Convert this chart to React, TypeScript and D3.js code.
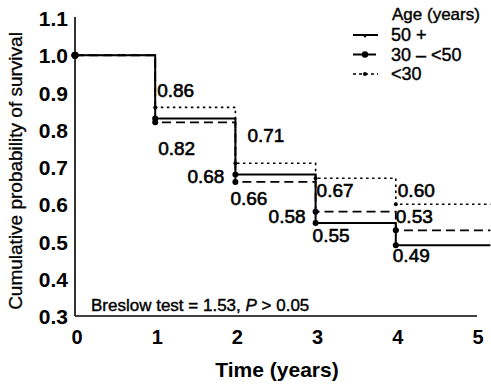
import React from "react";
import * as d3 from "d3";

// Kaplan-Meier estimates
const timeYears = [0, 1, 2, 3, 4];
const followUpEnd = 5.18;
const survival50plus = [1.0, 0.83, 0.68, 0.55, 0.49];
const survival30to50 = [1.0, 0.82, 0.66, 0.58, 0.53];
const survivalUnder30 = [1.0, 0.86, 0.71, 0.67, 0.6];

const seriesNames = ["50 +", "30 \u2013 <50", "<30"];
const yTicks = [0.3, 0.4, 0.5, 0.6, 0.7, 0.8, 0.9, 1.0, 1.1];
const xTicks = [0, 1, 2, 3, 4, 5];

// printed estimates: text, time, value
const labelTexts = ["0.86", "0.82", "0.71", "0.68", "0.66", "0.67", "0.58", "0.55", "0.60", "0.53", "0.49"];
const labelTimes = [1, 1, 2, 2, 2, 3, 3, 3, 4, 4, 4];
const labelValues = [0.86, 0.82, 0.71, 0.68, 0.66, 0.67, 0.58, 0.55, 0.6, 0.53, 0.49];

// label placement relative to its point (pixels)
const labelOffsets: Array<[number, number, "start" | "end"]> = [
  [2, -10, "start"],
  [3, 33, "start"],
  [12, -21, "start"],
  [-11, 9, "end"],
  [-5, 23, "start"],
  [1, 19, "start"],
  [-10, 11, "end"],
  [-3, 19, "start"],
  [2, -7, "start"],
  [0, -7, "start"],
  [-3, 17, "start"],
];

const W = 491;
const H = 384;
const font = "'Liberation Sans', Arial, sans-serif";

const styles = [
  { dash: "none", width: 2 },
  { dash: "9,5", width: 1.8 },
  { dash: "2.5,3.5", width: 1.6 },
];

export default function App() {
  const x = d3.scaleLinear().domain([0, 5]).range([75, 476]);
  const y = d3.scaleLinear().domain([0.3, 1.1]).range([316, 18]);

  const allSeries = [survival50plus, survival30to50, survivalUnder30];
  const line = d3
    .line<[number, number]>()
    .x((d) => x(d[0]))
    .y((d) => y(d[1]))
    .curve(d3.curveStepAfter);

  const paths = allSeries.map((vals) => {
    const pts: [number, number][] = timeYears.map((t, i) => [t, vals[i]]);
    pts.push([followUpEnd, vals[vals.length - 1]]);
    return line(pts) || "";
  });

  return (
    <svg
      width={W}
      height={H}
      style={{ position: "absolute", left: 0, top: 0, background: "#fff" }}
      fontFamily={font}
    >
      {/* axes */}
      <line x1={x(0)} x2={x(0)} y1={y(1.1) - 1} y2={y(0.3)} stroke="#000" strokeWidth={1.6} />
      <line x1={x(0)} x2={x(5) + 1} y1={y(0.3)} y2={y(0.3)} stroke="#000" strokeWidth={1.6} />

      {yTicks.map((t) => (
        <text
          key={"y" + t}
          x={68}
          y={y(t) + 8}
          textAnchor="end"
          fontSize={21}
          fontWeight="bold"
        >
          {t.toFixed(1)}
        </text>
      ))}
      {xTicks.map((t) => (
        <text key={"x" + t} x={x(t) + 2} y={344} textAnchor="middle" fontSize={20} fontWeight="bold">
          {t}
        </text>
      ))}

      <text x={277} y={377} textAnchor="middle" fontSize={21} fontWeight="bold">
        Time (years)
      </text>
      <text
        transform={`translate(22,${171}) rotate(-90)`}
        textAnchor="middle"
        fontSize={19}
        stroke="#000"
        strokeWidth={0.3}
      >
        Cumulative probability of survival
      </text>

      {/* survival curves */}
      {paths.map((p, i) => (
        <path
          key={"p" + i}
          d={p}
          fill="none"
          stroke="#000"
          strokeWidth={styles[i].width}
          strokeDasharray={styles[i].dash}
        />
      ))}
      {allSeries.map((vals, i) =>
        timeYears.map((t, j) => (
          <circle
            key={`m${i}-${j}`}
            cx={x(t)}
            cy={y(vals[j])}
            r={j === 0 ? 3.5 : i === 2 ? 2 : 3}
            fill="#000"
          />
        ))
      )}

      {/* printed estimates */}
      {labelTexts.map((s, i) => (
        <text
          key={"l" + i}
          x={x(labelTimes[i]) + labelOffsets[i][0]}
          y={y(labelValues[i]) + labelOffsets[i][1]}
          textAnchor={labelOffsets[i][2]}
          fontSize={19}
          stroke="#000"
          strokeWidth={0.6}
        >
          {s}
        </text>
      ))}

      <text x={91} y={311} fontSize={17} stroke="#000" strokeWidth={0.4}>
        Breslow test = 1.53, <tspan fontStyle="italic">P</tspan> &gt; 0.05
      </text>

      {/* legend */}
      <text x={392} y={20} fontSize={17} stroke="#000" strokeWidth={0.4}>
        Age (years)
      </text>
      {seriesNames.map((name, i) => {
        const cy = 35 + i * 19.5;
        return (
          <g key={"lg" + i}>
            <line
              x1={353}
              x2={378}
              y1={cy}
              y2={cy}
              stroke="#000"
              strokeWidth={styles[i].width}
              strokeDasharray={i === 0 ? "none" : i === 1 ? "9,5" : "3,3"}
            />
            {i === 0 ? (
              <path d={`M${362},${cy - 1} l6,0 l-3,4 z`} fill="#000" />
            ) : (
              <circle cx={365} cy={cy} r={i === 1 ? 3.2 : 2} fill="#000" />
            )}
            <text x={391} y={cy + 6} fontSize={18} stroke="#000" strokeWidth={0.4}>
              {name}
            </text>
          </g>
        );
      })}
    </svg>
  );
}
